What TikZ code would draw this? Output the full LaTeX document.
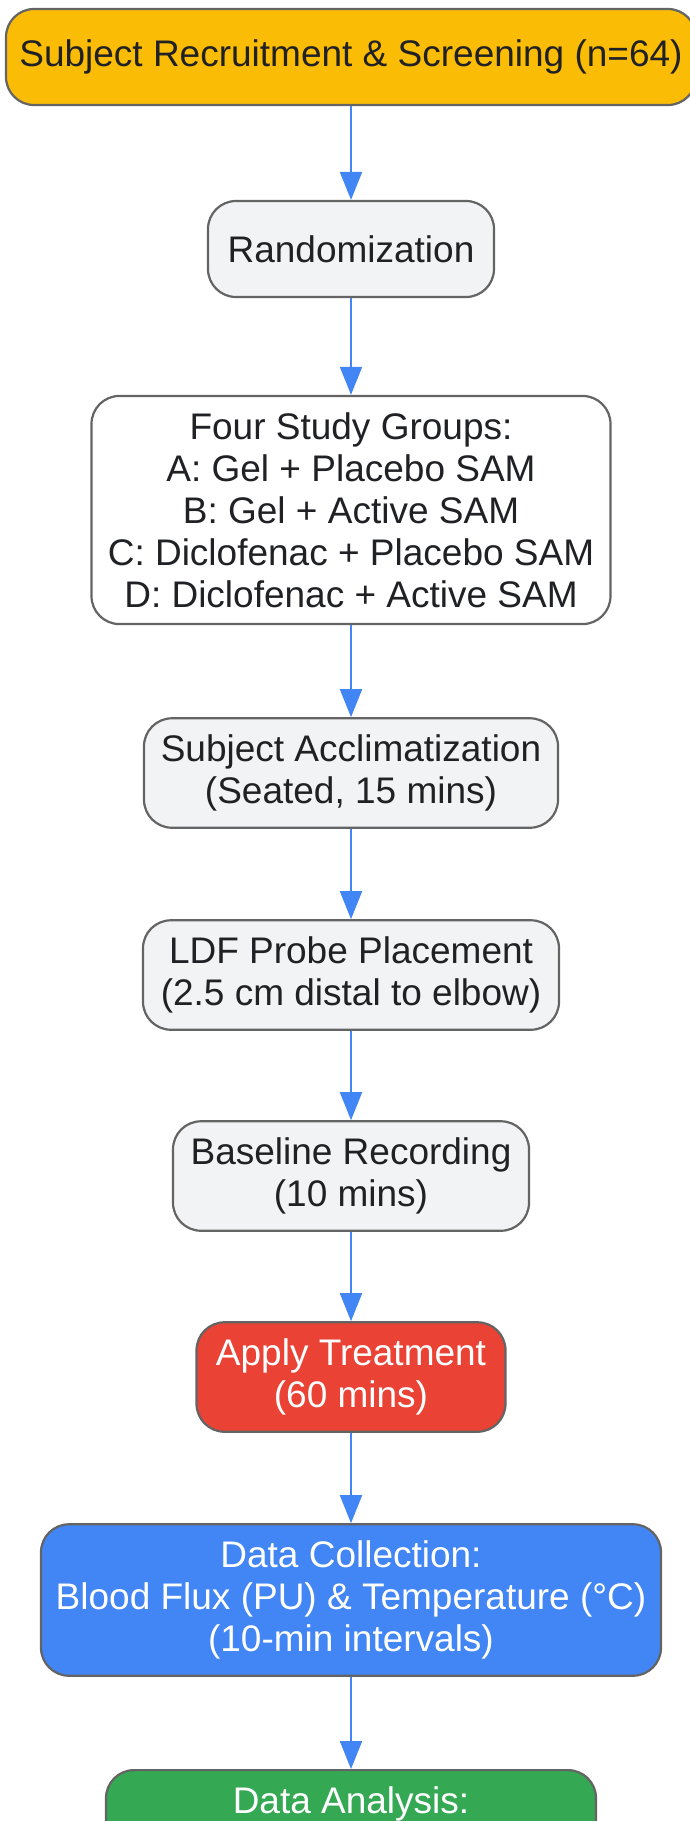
\documentclass[tikz,border=0pt]{standalone}
\usepackage{fontspec}
\setmainfont{Liberation Sans}
\usetikzlibrary{arrows.meta}
\definecolor{cYellow}{HTML}{FBBC05}
\definecolor{cGray}{HTML}{F1F3F4}
\definecolor{cRed}{HTML}{EA4335}
\definecolor{cBlue}{HTML}{4285F4}
\definecolor{cGreen}{HTML}{34A853}
\definecolor{cLine}{HTML}{646464}
\definecolor{cText}{HTML}{202124}
\tikzset{
  stepnode/.style={draw=cLine, line width=2.2pt, rounded corners=28pt, align=center,
    inner xsep=8pt, inner ysep=16.5pt, minimum height=96pt, text=cText,
    font=\fontsize{37}{42}\selectfont},
  flow/.style={draw=cBlue, line width=2pt, -{Triangle[length=28pt,width=22pt]}}
}
\begin{document}
\begin{tikzpicture}[x=1pt, y=-1pt]
          \useasboundingbox (0,0) rectangle (690,1821);
          \clip (0,0) rectangle (690,1821);
          \node[stepnode, fill=cYellow, minimum width=690pt] (nRecruit) at (351,57) {Subject Recruitment \& Screening (n=64)};
          \node[stepnode, fill=cGray, minimum width=286pt] (nRandom) at (351,249) {Randomization};
          \node[stepnode, fill=white, minimum width=519pt] (nGroups) at (351,510) {Four Study Groups:\\A: Gel + Placebo SAM\\B: Gel + Active SAM\\C: Diclofenac + Placebo SAM\\D: Diclofenac + Active SAM};
          \node[stepnode, fill=cGray, minimum width=414pt] (nAcclim) at (351,773) {Subject Acclimatization\\(Seated, 15 mins)};
          \node[stepnode, fill=cGray, minimum width=416pt] (nProbe) at (351,975) {LDF Probe Placement\\(2.5 cm distal to elbow)};
          \node[stepnode, fill=cGray, minimum width=356pt] (nBase) at (351,1176) {Baseline Recording\\(10 mins)};
          \node[stepnode, fill=cRed, text=white, minimum width=309pt] (nTreat) at (351,1377) {Apply Treatment\\(60 mins)};
          \node[stepnode, fill=cBlue, text=white, minimum width=620pt] (nCollect) at (351,1600) {Data Collection:\\Blood Flux (PU) \& Temperature (°C)\\(10-min intervals)};
          \node[stepnode, fill=cGreen, text=white, minimum width=490pt, anchor=north] (nAnalysis) at (351,1769) {Data Analysis:\\\strut\\\strut};

          \draw[flow] (nRecruit) -- (nRandom);
          \draw[flow] (nRandom) -- (nGroups);
          \draw[flow] (nGroups) -- (nAcclim);
          \draw[flow] (nAcclim) -- (nProbe);
          \draw[flow] (nProbe) -- (nBase);
          \draw[flow] (nBase) -- (nTreat);
          \draw[flow] (nTreat) -- (nCollect);
          \draw[flow] (nCollect) -- (nAnalysis);
        \end{tikzpicture}
\end{document}
